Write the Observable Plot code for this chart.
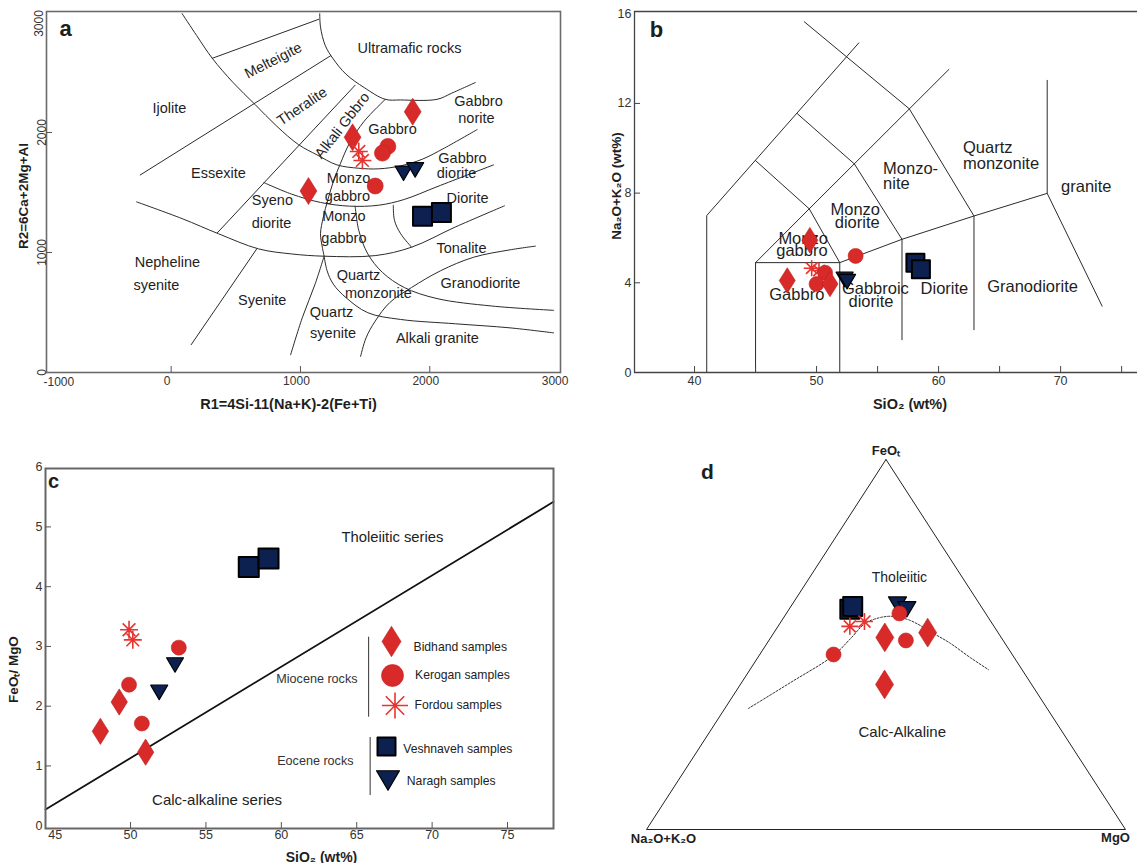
<!DOCTYPE html>
<html>
<head>
<meta charset="utf-8">
<script src="https://cdn.jsdelivr.net/npm/d3@7"></script>
<script src="https://cdn.jsdelivr.net/npm/@observablehq/plot@0.6"></script>
<style>
  html, body { margin: 0; padding: 0; background: #fff; }
  #wrap { position: relative; width: 1137px; height: 863px; overflow: hidden; background: #fff; }
  #wrap svg { position: absolute; overflow: visible; }
</style>
</head>
<body>
<div id="wrap"></div>
<script>
// ================= DATA =================
// Panel a : R1-R2 diagram, [R1, R2]
const aBidhand   = [[1868,2173],[1403,1960],[1062,1512]];
const aKerogan   = [[1676,1884],[1634,1828],[1578,1554]];
const aFordou    = [[1451,1842],[1479,1767]];
const aVeshnaveh = [[1944,1302],[2090,1333]];
const aNaragh    = [[1797,1660],[1887,1688]];
const aXTicks = [0,1000,2000,3000];
const aYTicks = [0,1000,2000];
// classification boundaries, [R1, R2]
const aBoundaries = [
  [[85,2990],[197,2808],[318,2618],[479,2416],[648,2234],[817,2052],[986,1898],[1127,1814],[1282,1730],[1451,1702],[1606,1697],[1775,1722],[1944,1778],[2113,1870],[2366,2024]],
  [[318,2618],[1141,2943]],
  [[1149,2990],[1155,2878],[1192,2724],[1254,2612],[1352,2486],[1493,2374],[1656,2276],[1775,2271],[2056,2276],[2169,2327],[2352,2416]],
  [[-239,1646],[1234,2640]],
  [[1423,2394],[358,1165]],
  [[1656,2276],[1493,2094],[1380,1912],[1310,1744],[1254,1590],[1211,1436],[1177,1296],[1155,1156],[1169,1044],[1183,969]],
  [[718,1582],[930,1487],[1155,1417],[1380,1386],[1606,1394],[1803,1442],[2056,1548],[2493,1730]],
  [[-268,1422],[85,1282],[366,1156],[676,1030],[930,988],[1183,969],[1578,974],[1859,1044],[2197,1212],[2578,1389]],
  [[1718,1394],[1727,1268],[1775,1156],[1859,1044]],
  [[155,232],[662,1030]],
  [[924,148],[1014,456],[1113,736],[1183,969]],
  [[1423,1386],[1451,1184],[1521,988],[1634,834],[1803,708],[2056,616],[2479,554],[2958,518]],
  [[1183,969],[1206,848],[1254,736],[1352,624],[1521,498],[1775,442],[2197,406],[2620,372],[2958,330]],
  [[1465,134],[1507,288],[1578,428],[1690,582],[1859,708],[2084,848],[2338,960],[2620,1022],[2817,1053]]
];
const aFieldNames = ["Ultramafic rocks","Melteigite","Theralite","Ijolite","Alkali Gbbro","Gabbro","norite","Gabbro","Gabbro","diorite","Essexite","Monzo","gabbro","Diorite","Syeno","diorite","Monzo","gabbro","Tonalite","Nepheline","syenite","Quartz","monzonite","Granodiorite","Syenite","Quartz","syenite","Alkali granite"];

// Panel b : TAS (plutonic), [SiO2, Na2O+K2O]
const bBidhand   = [[49.45,5.9],[47.6,4.1],[51.1,3.95]];
const bKerogan   = [[50.7,4.45],[50.0,3.95],[53.2,5.2]];
const bFordou    = [[49.6,4.65],[50.2,4.55]];
const bVeshnaveh = [[58.1,4.9],[58.55,4.6]];
const bNaragh    = [[52.3,4.15],[52.5,4.05]];
const bXLabels = [40,50,60,70];
const bXTicks  = [40,45,50,55,60,65,70,75];
const bYTicks  = [0,4,8,12,16];
const bBoundaries = [
  [[41,0],[41,7],[53.46,14.7]],
  [[45,0],[45,4.9],[51.9,4.9],[51.9,0]],
  [[45,4.9],[49.4,7.3],[51.9,4.9]],
  [[45,9.45],[49.4,7.3]],
  [[49.4,7.3],[60.85,13.52]],
  [[48.43,11.54],[53.1,9.3],[57,5.94],[57,1.46]],
  [[49.0,15.64],[57.6,11.76],[62.9,6.98],[62.9,1.91]],
  [[51.9,4.9],[57,5.94],[62.9,6.98],[68.9,7.99]],
  [[68.9,13.03],[68.9,7.99],[73.4,2.96]]
];
const bFieldNames = ["Quartz","monzonite","Monzo-","nite","granite","Monzo","diorite","Monzo","gabbro","Gabbro","Gabbroic","diorite","Diorite","Granodiorite"];

// Panel c : SiO2 vs FeOt/MgO, [SiO2, FeOt/MgO]
const cBidhand   = [[48.0,1.58],[49.25,2.07],[51.0,1.23]];
const cKerogan   = [[53.2,2.98],[49.9,2.36],[50.75,1.71]];
const cFordou    = [[49.9,3.28],[50.15,3.11]];
const cVeshnaveh = [[57.84,4.33],[59.15,4.47]];
const cNaragh    = [[51.9,2.23],[52.95,2.69]];
const cDivide    = [[44.36,0.27],[78.05,5.42]];
const cXLabels = [45,50,55,60,65,70,75];
const cXTicks  = [50,55,60,65,70,75];
const cYLabels = [0,1,2,3,4,5,6];
const cYTicks  = [1,2,3,4,5];

// Panel d : AFM ternary, [FeOt, Na2O+K2O, MgO]
const dBidhand   = [[51.9,24.3,23.8],[53.2,14.7,32.1],[39.2,30.7,30.1]];
const dKerogan   = [[58.4,18.0,23.6],[51.1,20.3,28.6],[47.3,37.3,15.4]];
const dFordou    = [[54.9,30.1,15.0],[56.2,26.4,17.4]];
const dVeshnaveh = [[59.5,27.8,12.7],[60.3,26.8,12.9]];
const dNaragh    = [[60.8,17.2,22.0],[59.5,15.9,24.6]];
const dCurve = [[32.7,62.4,4.9],[39.7,50.1,10.2],[47.0,37.5,15.5],[51.6,31.6,16.8],[55.7,26.5,17.8],[57.3,22.5,20.2],[57.6,19.6,22.8],[56.5,16.7,26.8],[53.0,13.6,33.4],[50.3,11.4,38.3],[46.5,9.2,44.3],[43.2,7.0,49.8]];
const dVertices = [[100,0,0],[0,100,0],[0,0,100]];

// ================= STYLE / HELPERS =================
const FONT = '"Liberation Sans", Arial, Helvetica, sans-serif';
const RED = "#d92a2a", NAVY = "#0d2150";
const STY = {fontFamily: FONT, fontSize: "12px", color: "#333", background: "transparent", overflow: "visible"};
const fmt = d => String(d);
const MID = {textAnchor: "middle", lineAnchor: "middle"};

const symDiamond = {draw(c, s){ const r = Math.sqrt(s/Math.PI), h = r*1.6; c.moveTo(0,-h); c.lineTo(r,0); c.lineTo(0,h); c.lineTo(-r,0); c.closePath(); }};
const symSquare  = {draw(c, s){ const r = Math.sqrt(s/Math.PI); c.moveTo(-r,-r); c.lineTo(r,-r); c.lineTo(r,r); c.lineTo(-r,r); c.closePath(); }};
const symTriDown = {draw(c, s){ const r = Math.sqrt(s/Math.PI), h = r*0.85; c.moveTo(-r,-h); c.lineTo(r,-h); c.lineTo(0,h); c.closePath(); }};
const symAst     = {draw(c, s){ const r = Math.sqrt(s/Math.PI); for (let i = 0; i < 4; i++){ const a = i*Math.PI/4; c.moveTo(-r*Math.cos(a), -r*Math.sin(a)); c.lineTo(r*Math.cos(a), r*Math.sin(a)); } }};

const G = {
  bidhand:   {symbol: symDiamond, fill: RED, stroke: "#b81c1c", strokeWidth: 0.6},
  kerogan:   {symbol: "circle",   fill: RED, stroke: "#c02020", strokeWidth: 0.6},
  fordou:    {symbol: symAst,     fill: "none", stroke: "#e8332e", strokeWidth: 1.6},
  veshnaveh: {symbol: symSquare,  fill: NAVY, stroke: "#000", strokeWidth: 2},
  naragh:    {symbol: symTriDown, fill: NAVY, stroke: "#000", strokeWidth: 1.2}
};
function dots(data, g, r, x, y) {
  return Plot.dot(data, {x, y, r, symbol: g.symbol, fill: g.fill, stroke: g.stroke, strokeWidth: g.strokeWidth, strokeLinejoin: "round"});
}
function legendDot(g, r, dx, dy) {
  return Plot.dot([0], {frameAnchor: "top-left", dx, dy, r, symbol: g.symbol, fill: g.fill, stroke: g.stroke, strokeWidth: g.strokeWidth, strokeLinejoin: "round"});
}
function label(str, opts) {
  return Plot.text([str], {text: d => d, ...MID, ...opts});
}
const wrap = document.getElementById("wrap");
function place(svg, left, top) { svg.style.left = left + "px"; svg.style.top = top + "px"; wrap.appendChild(svg); }
const X = d => d[0], Y = d => d[1];

// ================= PANEL A =================
const aLayout = [ // label placement (R1, R2, angle) for aFieldNames, same order
  [1843,2700,0],[790,2600,-27],[1013,2217,-34],[-13,2200,0],[1323,2058,-52],
  [2377,2261,0],[2361,2117,0],[1712,2025,0],[2253,1783,0],[2207,1661,0],
  [366,1661,0],[1371,1617,0],[1363,1467,0],[2292,1453,0],[783,1433,0],[776,1244,0],
  [1336,1300,0],[1336,1117,0],[2245,1033,0],[-29,919,0],[-114,725,0],
  [1449,808,0],[1603,658,0],[2392,744,0],[704,600,0],[1240,502,0],[1252,322,0],[2059,281,0]
];
const aLabels = aFieldNames.map((t, i) => ({t, x: aLayout[i][0], y: aLayout[i][1], a: aLayout[i][2]}));
const aInW = 570 - 46 - 10, aInH = 420 - 11 - 48;
place(Plot.plot({
  width: 570, height: 420, marginLeft: 46, marginRight: 10, marginTop: 11, marginBottom: 48,
  x: {domain: [-964, 3011]}, y: {domain: [0, 3008]}, style: STY,
  marks: [
    ...aBoundaries.map(l => Plot.line(l, {x: X, y: Y, stroke: "#2b2b2b", strokeWidth: 1, curve: "catmull-rom"})),
    Plot.text(aLabels, {x: "x", y: "y", text: "t", rotate: "a", fontSize: 14.5, fill: "#1e1e1e"}),
    dots(aBidhand, G.bidhand, 8.4, X, Y),
    dots(aKerogan, G.kerogan, 8, X, Y),
    dots(aFordou, G.fordou, 9, X, Y),
    dots(aVeshnaveh, G.veshnaveh, 9.5, X, Y),
    dots(aNaragh, G.naragh, 8.5, X, Y),
    Plot.frame({stroke: "#6b6b6b", strokeWidth: 1.6}),
    Plot.ruleX(aXTicks.slice(0, 3), {x: d => d, insetTop: aInH - 6, stroke: "#555"}),
    Plot.ruleY(aYTicks.slice(1), {y: d => d, insetRight: aInW - 6, stroke: "#555"}),
    Plot.axisX(aXTicks, {tickSize: 0, tickPadding: 4, dx: -4, label: null, fontSize: 12, tickFormat: fmt}),
    label("-1000", {frameAnchor: "bottom-left", textAnchor: "start", dx: -3, dy: 10, fontSize: 12, fill: "#333"}),
    Plot.axisY(aYTicks, {tickSize: 0, tickRotate: -90, tickPadding: 1, label: null, fontSize: 12, tickFormat: fmt}),
    label("3000", {frameAnchor: "top-left", rotate: -90, dx: -7, dy: 12, fontSize: 12, fill: "#333"}),
    label("R2=6Ca+2Mg+Al", {frameAnchor: "left", rotate: -90, dx: -23, dy: 4, fontWeight: "bold", fontSize: 13.5, fill: "#1e1e1e"}),
    label("R1=4Si-11(Na+K)-2(Fe+Ti)", {frameAnchor: "bottom", dx: -15, dy: 32, fontWeight: "bold", fontSize: 14.5, fill: "#1e1e1e"}),
    label("a", {frameAnchor: "top-left", dx: 19, dy: 17, fontWeight: "bold", fontSize: 22, fill: "#1e1e1e"})
  ]
}), 0, 0);

// ================= PANEL B =================
const bLayout = [ // (SiO2, alkali, anchor) for bFieldNames
  [62.0,10.04,"start"],[62.0,9.33,"start"],[55.45,9.11,"start"],[55.45,8.4,"start"],[72.1,8.3,"middle"],
  [53.17,7.28,"middle"],[53.33,6.7,"middle"],[48.9,5.95,"middle"],[48.8,5.41,"middle"],[48.38,3.45,"middle"],
  [54.82,3.72,"middle"],[54.46,3.14,"middle"],[60.48,3.72,"middle"],[67.7,3.81,"middle"]
];
const bLabels = bFieldNames.map((t, i) => ({t, x: bLayout[i][0], y: bLayout[i][1], a: bLayout[i][2]}));
const bDom = [35.08, 76.3], bYDom = [0, 16.1];
const bInW = 567 - 64, bInH = 420 - 11 - 48;
place(Plot.plot({
  width: 567, height: 420, marginLeft: 64, marginRight: 0, marginTop: 11, marginBottom: 48,
  x: {domain: bDom}, y: {domain: bYDom}, style: STY,
  marks: [
    ...bBoundaries.map(l => Plot.line(l, {x: X, y: Y, stroke: "#2b2b2b", strokeWidth: 1})),
    Plot.text(bLabels.filter(d => d.a === "start"), {x: "x", y: "y", text: "t", textAnchor: "start", fontSize: 16.5, fill: "#1e1e1e"}),
    Plot.text(bLabels.filter(d => d.a === "middle"), {x: "x", y: "y", text: "t", fontSize: 16.5, fill: "#1e1e1e"}),
    dots(bFordou, G.fordou, 8, X, Y),
    dots(bKerogan, G.kerogan, 7.5, X, Y),
    dots(bBidhand, G.bidhand, 8, X, Y),
    dots(bNaragh, G.naragh, 8.5, X, Y),
    dots(bVeshnaveh, G.veshnaveh, 9, X, Y),
    Plot.ruleX([bDom[0]], {stroke: "#444", strokeWidth: 1.3}),
    Plot.ruleY([bYDom[0], bYDom[1]], {stroke: "#444", strokeWidth: 1.3}),
    Plot.ruleX(bXTicks, {x: d => d, insetTop: bInH - 6, stroke: "#444"}),
    Plot.ruleY(bYTicks.slice(1, 4), {y: d => d, insetRight: bInW - 6, stroke: "#444"}),
    Plot.axisX(bXLabels, {tickSize: 0, tickPadding: 4, label: null, fontSize: 12.5, tickFormat: fmt}),
    Plot.axisY(bYTicks, {tickSize: 0, tickPadding: 3, label: null, fontSize: 12.5, tickFormat: fmt}),
    label("Na₂O+K₂O (wt%)", {frameAnchor: "left", rotate: -90, dx: -18, dy: -6, fontWeight: "bold", fontSize: 13.5, fill: "#1e1e1e"}),
    label("SiO₂ (wt%)", {frameAnchor: "bottom", dx: 24, dy: 32, fontWeight: "bold", fontSize: 14.5, fill: "#1e1e1e"}),
    label("b", {frameAnchor: "top-left", dx: 22, dy: 18, fontWeight: "bold", fontSize: 22, fill: "#1e1e1e"})
  ]
}), 570, 0);

// ================= PANEL C =================
const cInW = 570 - 45 - 17, cInH = 433 - 38 - 35;
place(Plot.plot({
  width: 570, height: 433, marginLeft: 45, marginRight: 17, marginTop: 38, marginBottom: 35,
  x: {domain: [44.36, 78.05]}, y: {domain: [-0.047, 5.978]}, style: STY,
  marks: [
    Plot.line(cDivide, {x: X, y: Y, stroke: "#111", strokeWidth: 1.8}),
    label("Tholeiitic series", {x: 67.37, y: 4.83, fontSize: 14.8, fill: "#222"}),
    label("Calc-alkaline series", {x: 55.74, y: 0.42, fontSize: 15, fill: "#222"}),
    dots(cBidhand, G.bidhand, 8.2, X, Y),
    dots(cKerogan, G.kerogan, 7.5, X, Y),
    dots(cFordou, G.fordou, 9, X, Y),
    dots(cVeshnaveh, G.veshnaveh, 10, X, Y),
    dots(cNaragh, G.naragh, 8.5, X, Y),
    // legend
    Plot.ruleX([65.79], {y1: 3.155, y2: 1.816, stroke: "#333", strokeWidth: 1}),
    Plot.ruleX([65.89], {y1: 1.476, y2: 0.505, stroke: "#333", strokeWidth: 1}),
    label("Miocene rocks", {frameAnchor: "top-left", textAnchor: "end", dx: 312, dy: 210, fontSize: 12.6, fill: "#333"}),
    label("Eocene rocks", {frameAnchor: "top-left", textAnchor: "end", dx: 308, dy: 292, fontSize: 12.6, fill: "#333"}),
    legendDot(G.bidhand, 9.5, 346, 173),
    legendDot(G.kerogan, 11, 347, 207),
    legendDot(G.fordou, 13, 349.5, 237),
    legendDot(G.veshnaveh, 9, 341, 278),
    legendDot(G.naragh, 11.5, 342.5, 312),
    label("Bidhand samples", {frameAnchor: "top-left", textAnchor: "start", dx: 368, dy: 179, fontSize: 12.2, fill: "#222"}),
    label("Kerogan samples", {frameAnchor: "top-left", textAnchor: "start", dx: 369.5, dy: 207, fontSize: 12.2, fill: "#222"}),
    label("Fordou samples", {frameAnchor: "top-left", textAnchor: "start", dx: 369, dy: 237, fontSize: 12.2, fill: "#222"}),
    label("Veshnaveh samples", {frameAnchor: "top-left", textAnchor: "start", dx: 357.7, dy: 281, fontSize: 12.2, fill: "#222"}),
    label("Naragh samples", {frameAnchor: "top-left", textAnchor: "start", dx: 361.3, dy: 313, fontSize: 12.2, fill: "#222"}),
    Plot.frame({stroke: "#666", strokeWidth: 2}),
    Plot.ruleX(cXTicks, {x: d => d, insetTop: cInH - 6, stroke: "#555"}),
    Plot.ruleY(cYTicks, {y: d => d, insetRight: cInW - 6, stroke: "#555"}),
    Plot.axisX(cXLabels, {tickSize: 0, tickPadding: 2, label: null, fontSize: 12.5, tickFormat: fmt}),
    Plot.axisY(cYLabels, {tickSize: 0, tickPadding: 3, label: null, fontSize: 12.5, tickFormat: fmt}),
    label("FeOₜ/ MgO", {frameAnchor: "left", rotate: -90, dx: -32, dy: 21, fontWeight: "bold", fontSize: 13.5, fill: "#1e1e1e"}),
    label("SiO₂ (wt%)", {frameAnchor: "bottom", dx: 22, dy: 29, fontWeight: "bold", fontSize: 14, fill: "#1e1e1e"}),
    label("c", {frameAnchor: "top-left", dx: 8, dy: 13, fontWeight: "bold", fontSize: 20, fill: "#1e1e1e"})
  ]
}), 0, 430);

// ================= PANEL D =================
const tern = d => { const s = d[0] + d[1] + d[2]; const F = d[0]/s*100, M = d[2]/s*100; return [M + F/2, F]; };
const TX = d => tern(d)[0], TY = d => tern(d)[1];
place(Plot.plot({
  width: 567, height: 433, marginLeft: 76, marginRight: 12, marginTop: 29, marginBottom: 34,
  x: {domain: [0, 100], axis: null}, y: {domain: [0, 100], axis: null}, style: STY,
  marks: [
    Plot.line([...dVertices, dVertices[0]], {x: TX, y: TY, stroke: "#222", strokeWidth: 1}),
    Plot.line(dCurve, {x: TX, y: TY, stroke: "#333", strokeWidth: 1, strokeDasharray: "2,1.6", curve: "catmull-rom"}),
    label("Tholeiitic", {x: 52.8, y: 68.0, fontSize: 14, fill: "#222"}),
    label("Calc-Alkaline", {x: 53.4, y: 26.3, fontSize: 15, fill: "#222"}),
    dots(dVeshnaveh, G.veshnaveh, 9.5, TX, TY),
    dots(dNaragh, G.naragh, 9, TX, TY),
    dots(dBidhand, G.bidhand, 9, TX, TY),
    dots(dKerogan, G.kerogan, 7.5, TX, TY),
    dots(dFordou, G.fordou, 8.5, TX, TY),
    Plot.text([dVertices[0]], {x: TX, y: TY, text: () => "FeOₜ", dy: -9, fontWeight: "bold", fontSize: 13, fill: "#1e1e1e"}),
    Plot.text([dVertices[1]], {x: TX, y: TY, text: () => "Na₂O+K₂O", dx: 17, dy: 9, fontWeight: "bold", fontSize: 13, fill: "#1e1e1e"}),
    Plot.text([dVertices[2]], {x: TX, y: TY, text: () => "MgO", dx: -10, dy: 8, fontWeight: "bold", fontSize: 13, fill: "#1e1e1e"}),
    label("d", {frameAnchor: "top-left", dx: 61, dy: 13, fontWeight: "bold", fontSize: 21, fill: "#1e1e1e"})
  ]
}), 570, 430);
</script>
</body>
</html>
